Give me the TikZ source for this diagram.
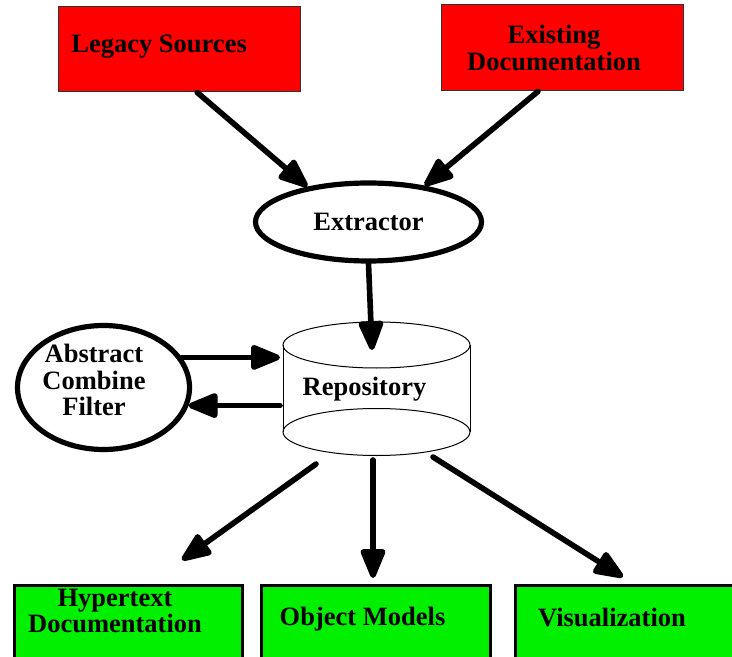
\documentclass[tikz,border=0pt]{standalone}
\usepackage{fontspec}
\setmainfont{Liberation Serif}
\usetikzlibrary{arrows.meta,shapes.geometric}
\definecolor{srcred}{RGB}{255,0,0}
\definecolor{outgreen}{RGB}{0,240,0}
\begin{document}
\begin{tikzpicture}[x=0.5pt, y=-0.5pt,
    font=\bfseries\fontsize{13.25pt}{13.25pt}\selectfont,
    flow/.style={line width=2.8pt, line cap=round, -{Triangle[length=17pt,width=13pt,round]}},
    srcbox/.style={draw=black!80, line width=0.5pt, fill=srcred, minimum width=121pt, minimum height=42.5pt, inner sep=0pt},
    outbox/.style={draw, line width=1.6pt, fill=outgreen, anchor=north west, minimum width=114pt, minimum height=50pt, inner sep=0pt},
    proc/.style={draw, ellipse, line width=2.6pt, inner sep=0pt},
    txt/.style={align=center, inner sep=0pt}]
  \useasboundingbox (0,0) rectangle (732,657);
  \node[srcbox] (legacy) at (179,49.5) {};
  \node[txt, anchor=base west] (legacyText) at (71,53) {Legacy Sources};
  \node[srcbox, minimum height=43pt] (existing) at (562,48) {};
  \node[txt] (existingText) at (554,48) {Existing\\Documentation};
  \node[proc, minimum width=113pt, minimum height=39pt] (extractor) at (368.5,222) {Extractor};
  \node[proc, minimum width=86pt, minimum height=62pt] (filter) at (103.5,387.5) {};
  \node[txt] (filterText) at (94,380) {Abstract\\Combine\\Filter};
  \begin{scope}[line width=0.5pt]
    \draw (283,345) -- (283,432);
    \draw (470,345) -- (470,432);
    \draw (376.5,345) ellipse (93.5 and 23);
    \draw (376.5,432) ellipse (93.5 and 23.5);
  \end{scope}
  \node[txt, anchor=base] (repo) at (364.5,395) {Repository};
  \coordinate (repoTop) at (372,350);
  \coordinate (repoW) at (280,388);
  \coordinate (repoSW) at (316,464);
  \coordinate (repoS) at (373,460);
  \coordinate (repoSE) at (433,457);
  \node[outbox] (hyper) at (12.5,584) {};
  \node[outbox, minimum width=114.5pt] (objects) at (260,584) {};
  \node[outbox, minimum width=125pt] (visual) at (514,584) {};
  \node[txt] (hyperText) at (115,611) {Hypertext\\Documentation};
  \node[txt, anchor=base] (objectsText) at (362.5,625) {Object Models};
  \node[txt, anchor=base] (visualText) at (612,626) {Visualization};
  \coordinate (hyperIn) at (182,560);
  \coordinate (objectsIn) at (373,578);
  \coordinate (visualIn) at (623,577);
  \draw[flow] (legacy.-67) -- (extractor.150);
  \draw[flow] (existing.-119) -- (extractor.33);
  \draw[flow] (extractor.south) -- (repoTop);
  \draw[flow] (filter.21) -- (filter.21 -| repoW);
  \draw[flow] (repoW |- filter.-12) -- (filter.-12);
  \draw[flow] (repoSW) -- (hyperIn);
  \draw[flow] (repoS) -- (objectsIn);
  \draw[flow] (repoSE) -- (visualIn);
\end{tikzpicture}
\end{document}
